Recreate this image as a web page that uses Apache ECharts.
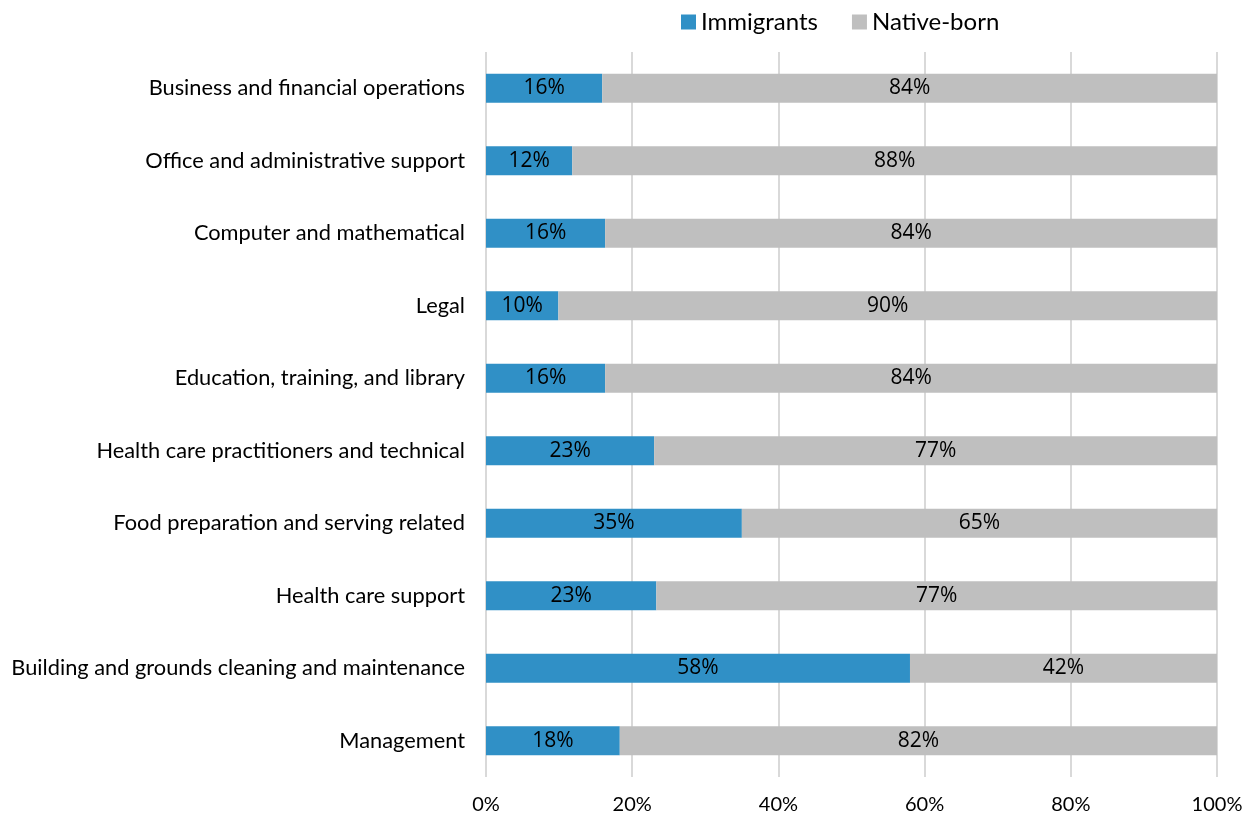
<!DOCTYPE html>
<html>
<head>
<meta charset="utf-8">
<script src="https://cdn.jsdelivr.net/npm/echarts@6/dist/echarts.min.js"></script>
<style>
  html, body { margin: 0; padding: 0; background: #fff; }
  #chart { width: 1251px; height: 820px; }
</style>
</head>
<body>
<div id="chart"></div>
<script>
// occupations, top to bottom
var categories = [
  "Business and financial operations",
  "Office and administrative support",
  "Computer and mathematical",
  "Legal",
  "Education, training, and library",
  "Health care practitioners and technical",
  "Food preparation and serving related",
  "Health care support",
  "Building and grounds cleaning and maintenance",
  "Management"
];
var immigrants = [15.9, 11.8, 16.3, 9.9, 16.3, 23.0, 35.0, 23.3, 58.0, 18.3];
var nativeBorn = [84.1, 88.2, 83.7, 90.1, 83.7, 77.0, 65.0, 76.7, 42.0, 81.7];
var xTicks = [0, 20, 40, 60, 80, 100];

var chart = echarts.init(document.getElementById("chart"));

var labelStyle = {
  show: true,
  position: "inside",
  color: "#000",
  fontSize: 21,
  fontFamily: "Open Sans",
  formatter: function (p) {
    return Math.round(p.value) + "%";
  }
};

chart.setOption({
  animation: false,
  textStyle: { fontFamily: "Lato" },
  legend: {
    top: 5,
    left: 676,
    itemWidth: 15,
    itemHeight: 15,
    itemGap: 34,
    icon: "rect",
    textStyle: { fontSize: 24, color: "#000", fontFamily: "Lato" },
    data: ["Immigrants", "Native-born"]
  },
  grid: {
    left: 486,
    right: 34,
    top: 52,
    bottom: 43
  },
  xAxis: {
    type: "value",
    min: 0,
    max: 100,
    interval: 20,
    axisLine: { show: false },
    axisTick: { show: false },
    axisLabel: {
      color: "#000",
      fontSize: 20,
      margin: 18,
      fontFamily: "Lato",
      formatter: function (v) {
        return xTicks.indexOf(v) >= 0 ? v + "%" : "";
      }
    },
    splitLine: { lineStyle: { color: "#D9D9D9", width: 2 } }
  },
  yAxis: {
    type: "category",
    inverse: true,
    data: categories,
    axisLine: { show: false },
    axisTick: { show: false },
    axisLabel: { color: "#000", fontSize: 21.8, margin: 21, fontFamily: "Lato" }
  },
  series: [
    {
      name: "Immigrants",
      type: "bar",
      stack: "total",
      barWidth: 29,
      data: immigrants,
      itemStyle: { color: "#3090C6" },
      label: labelStyle
    },
    {
      name: "Native-born",
      type: "bar",
      stack: "total",
      barWidth: 29,
      data: nativeBorn,
      itemStyle: { color: "#BFBFBF" },
      label: labelStyle
    }
  ]
});
</script>
</body>
</html>
